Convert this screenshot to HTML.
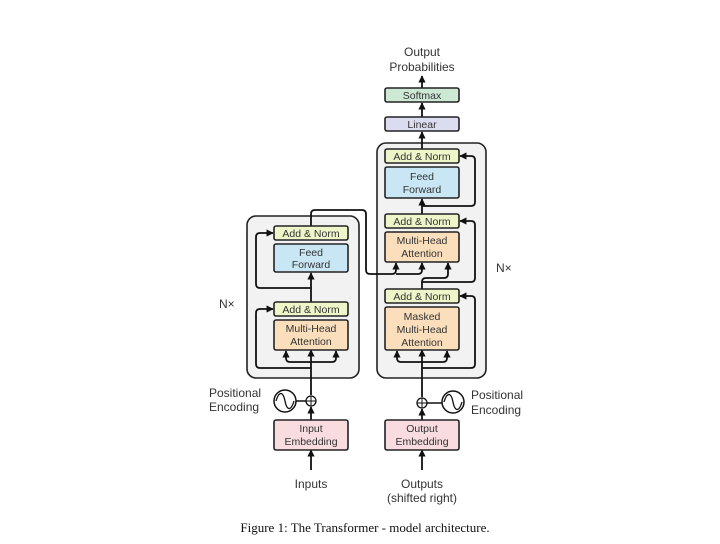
<!DOCTYPE html>
<html><head><style>
body{margin:0;background:#fff;width:720px;height:544px;overflow:hidden}
svg{display:block}
text{font-family:"Liberation Sans",sans-serif;font-size:10.5px;fill:#333}
.b{stroke:#222;stroke-width:1.6}
.l{fill:none;stroke:#111;stroke-width:1.8}
</style></head><body>
<svg width="720" height="544" viewBox="0 0 720 544">
<defs><marker id="a" viewBox="0 0 10 10" refX="9" refY="5" markerWidth="4" markerHeight="4" orient="auto"><path d="M0,0L10,5L0,10z" fill="#111"/></marker></defs>
<!-- outer boxes -->
<rect x="247" y="216" width="112" height="162" rx="9" fill="#f2f2f2" stroke="#222" stroke-width="1.6"/>
<rect x="377" y="143" width="109" height="235" rx="9" fill="#f2f2f2" stroke="#222" stroke-width="1.6"/>
<!-- encoder lines -->
<path class="l" d="M311,470 V450" marker-end="url(#a)"/>
<path class="l" d="M311,420 V407" marker-end="url(#a)"/>
<path class="l" d="M311,395 V350" marker-end="url(#a)"/>
<path class="l" d="M311,362 H290 Q286,362 286,358 V351" marker-end="url(#a)"/>
<path class="l" d="M311,362 H332 Q336,362 336,358 V351" marker-end="url(#a)"/>
<path class="l" d="M311,368 H260 Q256,368 256,364 V313 Q256,309 260,309 H273" marker-end="url(#a)"/>
<path class="l" d="M311,302 V273" marker-end="url(#a)"/>
<path class="l" d="M311,288 H260 Q256,288 256,284 V237 Q256,233 260,233 H273" marker-end="url(#a)"/>
<path class="l" d="M311,226 V214 Q311,210 315,210 H362 Q366,210 366,214 V270 Q366,274 370,274 H392 Q396,274 396,270 V263" marker-end="url(#a)"/>
<path class="l" d="M396,274 H418 Q422,274 422,270 V263" marker-end="url(#a)"/>
<!-- encoder PE -->
<line x1="295" y1="401" x2="306" y2="401" stroke="#111" stroke-width="1.5"/>
<circle cx="311" cy="401" r="5" fill="#fff" stroke="#111" stroke-width="1.3"/>
<path d="M306,401H316M311,396V406" stroke="#111" stroke-width="1"/>
<circle cx="285" cy="401" r="11" fill="#fff" stroke="#111" stroke-width="1.5"/>
<path d="M276,401 C279,391 283,391 285,401 S291,411 294,401" fill="none" stroke="#111" stroke-width="1.3"/>
<!-- decoder lines -->
<path class="l" d="M422,470 V450" marker-end="url(#a)"/>
<path class="l" d="M422,420 V409" marker-end="url(#a)"/>
<path class="l" d="M422,397 V350" marker-end="url(#a)"/>
<path class="l" d="M422,362 H401 Q397,362 397,358 V351" marker-end="url(#a)"/>
<path class="l" d="M422,362 H443 Q447,362 447,358 V351" marker-end="url(#a)"/>
<path class="l" d="M422,368 H471 Q475,368 475,364 V300 Q475,296 471,296 H460" marker-end="url(#a)"/>
<path class="l" d="M422,289 V282 Q422,278 426,278 H444 Q448,278 448,274 V263" marker-end="url(#a)"/>
<path class="l" d="M422,282 H471 Q475,282 475,278 V225 Q475,221 471,221 H460" marker-end="url(#a)"/>
<path class="l" d="M422,214 V199" marker-end="url(#a)"/>
<path class="l" d="M422,206 H471 Q475,206 475,202 V160 Q475,156 471,156 H460" marker-end="url(#a)"/>
<path class="l" d="M422,149 V132" marker-end="url(#a)"/>
<path class="l" d="M422,117 V103" marker-end="url(#a)"/>
<path class="l" d="M422,88 V76" marker-end="url(#a)"/>
<!-- decoder PE -->
<line x1="427" y1="403" x2="442" y2="403" stroke="#111" stroke-width="1.5"/>
<circle cx="422" cy="403" r="5" fill="#fff" stroke="#111" stroke-width="1.3"/>
<path d="M417,403H427M422,398V408" stroke="#111" stroke-width="1"/>
<circle cx="453" cy="402" r="11" fill="#fff" stroke="#111" stroke-width="1.5"/>
<path d="M444,402 C447,392 451,392 453,402 S459,412 462,402" fill="none" stroke="#111" stroke-width="1.3"/>
<!-- blocks encoder -->
<rect class="b" x="274" y="226" width="74" height="14" rx="2" fill="#eef5c8"/>
<rect class="b" x="274" y="244" width="74" height="28" rx="2" fill="#c9e6f4"/>
<rect class="b" x="274" y="302" width="74" height="14" rx="2" fill="#eef5c8"/>
<rect class="b" x="274" y="320" width="74" height="30" rx="2" fill="#fbdfbd"/>
<rect class="b" x="274" y="420" width="74" height="30" rx="2" fill="#f8dce0"/>
<!-- blocks decoder -->
<rect class="b" x="385" y="88" width="74" height="14" rx="2" fill="#cde9d6"/>
<rect class="b" x="385" y="117" width="74" height="14" rx="2" fill="#dcdcf0"/>
<rect class="b" x="385" y="149" width="74" height="14" rx="2" fill="#eef5c8"/>
<rect class="b" x="385" y="167" width="74" height="31" rx="2" fill="#c9e6f4"/>
<rect class="b" x="385" y="214" width="74" height="14" rx="2" fill="#eef5c8"/>
<rect class="b" x="385" y="232" width="74" height="30" rx="2" fill="#fbdfbd"/>
<rect class="b" x="385" y="289" width="74" height="14" rx="2" fill="#eef5c8"/>
<rect class="b" x="385" y="307" width="74" height="43" rx="2" fill="#fbdfbd"/>
<rect class="b" x="385" y="420" width="74" height="30" rx="2" fill="#f8dce0"/>
<g text-anchor="middle">
<text x="311" y="237">Add &amp; Norm</text>
<text x="311" y="256">Feed</text><text x="311" y="268">Forward</text>
<text x="311" y="313">Add &amp; Norm</text>
<text x="311" y="332">Multi-Head</text><text x="311" y="345">Attention</text>
<text x="311" y="432">Input</text><text x="311" y="445">Embedding</text>
<text x="422" y="99">Softmax</text>
<text x="422" y="128">Linear</text>
<text x="422" y="160">Add &amp; Norm</text>
<text x="422" y="180">Feed</text><text x="422" y="193">Forward</text>
<text x="422" y="225">Add &amp; Norm</text>
<text x="422" y="244">Multi-Head</text><text x="422" y="257">Attention</text>
<text x="422" y="300">Add &amp; Norm</text>
<text x="422" y="320">Masked</text><text x="422" y="333">Multi-Head</text><text x="422" y="346">Attention</text>
<text x="422" y="432">Output</text><text x="422" y="445">Embedding</text>
<text x="422" y="56" style="font-size:12px">Output</text>
<text x="422" y="71" style="font-size:12px">Probabilities</text>
<text x="311" y="488" style="font-size:12px">Inputs</text>
<text x="422" y="488" style="font-size:12px">Outputs</text>
<text x="422" y="502" style="font-size:12px">(shifted right)</text>
</g>
<text x="209" y="397" style="font-size:12px">Positional</text>
<text x="209" y="411" style="font-size:12px">Encoding</text>
<text x="471" y="399" style="font-size:12px">Positional</text>
<text x="471" y="414" style="font-size:12px">Encoding</text>
<text x="219" y="308" style="font-size:12px">N×</text>
<text x="496" y="272" style="font-size:12px">N×</text>
<text x="365" y="532" text-anchor="middle" style="font-family:'Liberation Serif',serif;font-size:13px;fill:#111">Figure 1: The Transformer - model architecture.</text>
</svg>
</body></html>
